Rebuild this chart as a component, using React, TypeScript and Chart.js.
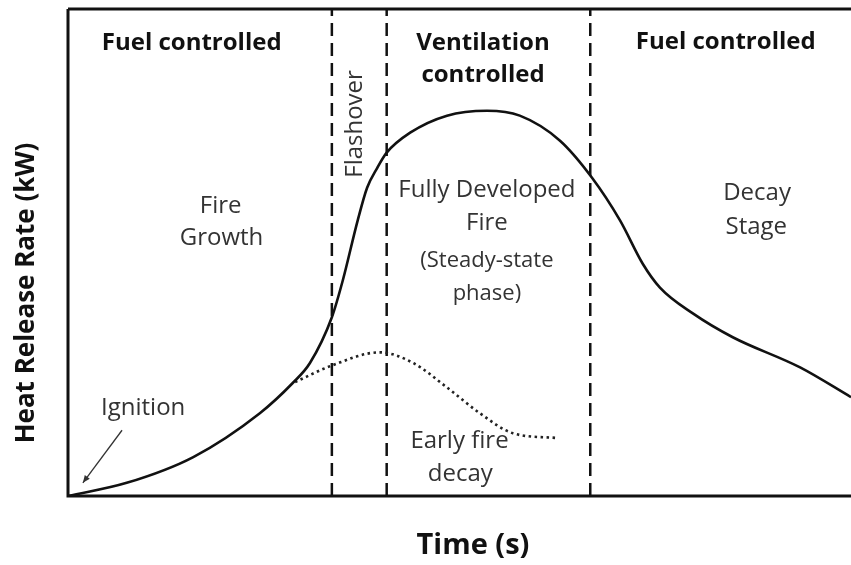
import React, { useEffect, useRef } from "react";
import { Chart, registerables } from "chart.js";

Chart.register(...registerables);

// Main heat-release-rate curve (normalised time 0-100, normalised HRR 0-100)
const timeMain = [0, 7.5, 16.0, 24.5, 28.7, 30.9, 33.7, 35.1, 37.0, 38.2, 39.5, 40.7, 43.7, 48.4, 53.5, 57.7, 62.8, 66.9, 70.5, 73.4, 75.6, 79.8, 84.9, 93.5, 100];
const hrrMain = [0, 2.7, 8.0, 17.0, 23.2, 27.3, 36.7, 44.3, 56.6, 63.3, 67.4, 70.5, 74.6, 78.1, 79.1, 78.1, 73.0, 65.4, 56.6, 47.7, 42.8, 37.5, 32.6, 26.4, 20.3];

// Early fire decay (dotted) curve
const timeEarly = [29.0, 33.7, 39.8, 44.1, 48.4, 52.6, 56.8, 62.5];
const hrrEarly = [23.4, 26.8, 29.5, 27.3, 22.3, 17.0, 12.9, 11.9];

// Phase boundaries (dashed vertical lines)
const phaseBoundaries = [33.7, 40.7, 66.7];

// Text annotations
const annotationTexts = [
  "Fuel controlled", "Ventilation", "controlled", "Fuel controlled",
  "Flashover", "Fire", "Growth", "Fully Developed", "Fire", "(Steady-state", "phase)",
  "Decay", "Stage", "Ignition", "Early fire", "decay",
];
const annotationX = [15.8, 53.0, 53.0, 84.0, 36.7, 19.5, 19.6, 53.5, 53.5, 53.5, 53.5, 88.0, 87.9, 9.6, 50.0, 50.1];
const annotationY = [93.0, 93.0, 86.5, 93.2, 76.4, 59.6, 52.9, 62.9, 56.1, 48.4, 41.6, 62.1, 55.3, 18.0, 11.3, 4.5];
const annotationKind = ["head", "head", "head", "head", "rot", "body", "body", "body", "body", "small", "small", "body", "body", "body", "body", "body"];

const xTitle = "Time (s)";
const yTitle = "Heat Release Rate (kW)";

const FONT = "'Open Sans', 'Noto Sans', sans-serif";

const overlayPlugin = {
  id: "overlay",
  afterDatasetsDraw(chart: any) {
    const { ctx, chartArea: a, scales } = chart;
    const xs = scales.x;
    const ys = scales.y;
    ctx.save();
    // frame
    ctx.strokeStyle = "#111";
    ctx.lineWidth = 3;
    ctx.beginPath();
    ctx.moveTo(a.left, a.top);
    ctx.lineTo(a.right + 5, a.top);
    ctx.moveTo(a.left, a.top);
    ctx.lineTo(a.left, a.bottom);
    ctx.lineTo(a.right + 5, a.bottom);
    ctx.stroke();

    // texts
    ctx.textAlign = "center";
    ctx.textBaseline = "middle";
    annotationTexts.forEach((t, i) => {
      const px = xs.getPixelForValue(annotationX[i]);
      const py = ys.getPixelForValue(annotationY[i]);
      const k = annotationKind[i];
      if (k === "head") {
        ctx.font = `bold 24px ${FONT}`;
        ctx.fillStyle = "#111";
      } else if (k === "small") {
        ctx.font = `22px ${FONT}`;
        ctx.fillStyle = "#333";
      } else {
        ctx.font = `24px ${FONT}`;
        ctx.fillStyle = "#333";
      }
      if (k === "rot") {
        ctx.save();
        ctx.translate(px, py);
        ctx.rotate(-Math.PI / 2);
        ctx.fillText(t, 0, 0);
        ctx.restore();
      } else {
        ctx.fillText(t, px, py);
      }
    });

    // ignition arrow
    const x1 = xs.getPixelForValue(6.9), y1 = ys.getPixelForValue(13.5);
    const x2 = xs.getPixelForValue(1.9), y2 = ys.getPixelForValue(2.7);
    ctx.strokeStyle = "#333";
    ctx.fillStyle = "#333";
    ctx.lineWidth = 1.3;
    ctx.beginPath();
    ctx.moveTo(x1, y1);
    ctx.lineTo(x2, y2);
    ctx.stroke();
    const ang = Math.atan2(y2 - y1, x2 - x1);
    ctx.beginPath();
    ctx.moveTo(x2, y2);
    ctx.lineTo(x2 - 8 * Math.cos(ang - 0.4), y2 - 8 * Math.sin(ang - 0.4));
    ctx.lineTo(x2 - 8 * Math.cos(ang + 0.4), y2 - 8 * Math.sin(ang + 0.4));
    ctx.closePath();
    ctx.fill();

    // axis titles
    ctx.fillStyle = "#111";
    ctx.font = `bold 29px ${FONT}`;
    ctx.fillText(xTitle, 473, 546);
    ctx.font = `bold 26px ${FONT}`;
    ctx.save();
    ctx.translate(27, 293);
    ctx.rotate(-Math.PI / 2);
    ctx.fillText(yTitle, 0, 0);
    ctx.restore();
    ctx.restore();
  },
};

export default function App() {
  const ref = useRef<HTMLCanvasElement | null>(null);
  useEffect(() => {
    if (!ref.current) return;
    const datasets: any[] = [
      {
        label: "HRR",
        data: timeMain.map((x, i) => ({ x, y: hrrMain[i] })),
        borderColor: "#111",
        borderWidth: 2.6,
        showLine: true,
        pointRadius: 0,
        cubicInterpolationMode: "monotone",
      },
      {
        label: "Early fire decay",
        data: timeEarly.map((x, i) => ({ x, y: hrrEarly[i] })),
        borderColor: "#222",
        borderWidth: 2.6,
        borderDash: [2.5, 3.5],
        showLine: true,
        pointRadius: 0,
        cubicInterpolationMode: "monotone",
      },
      ...phaseBoundaries.map((b) => ({
        label: "boundary",
        data: [{ x: b, y: 0 }, { x: b, y: 100 }],
        borderColor: "#111",
        borderWidth: 2.5,
        borderDash: [13, 7],
        showLine: true,
        pointRadius: 0,
      })),
    ];
    const chart = new Chart(ref.current, {
      type: "scatter",
      data: { datasets },
      options: {
        animation: false,
        responsive: false,
        layout: { padding: { left: 68, top: 9, right: 0, bottom: 69 } },
        plugins: { legend: { display: false }, tooltip: { enabled: false } },
        scales: {
          x: { type: "linear", min: 0, max: 100, display: false },
          y: { type: "linear", min: 0, max: 100, display: false },
        },
      },
      plugins: [overlayPlugin],
    });
    return () => chart.destroy();
  }, []);
  return (
    <div style={{ position: "absolute", left: 0, top: 0, width: 851, height: 565, background: "#fff" }}>
      <canvas ref={ref} width={851} height={565} style={{ display: "block" }} />
    </div>
  );
}
